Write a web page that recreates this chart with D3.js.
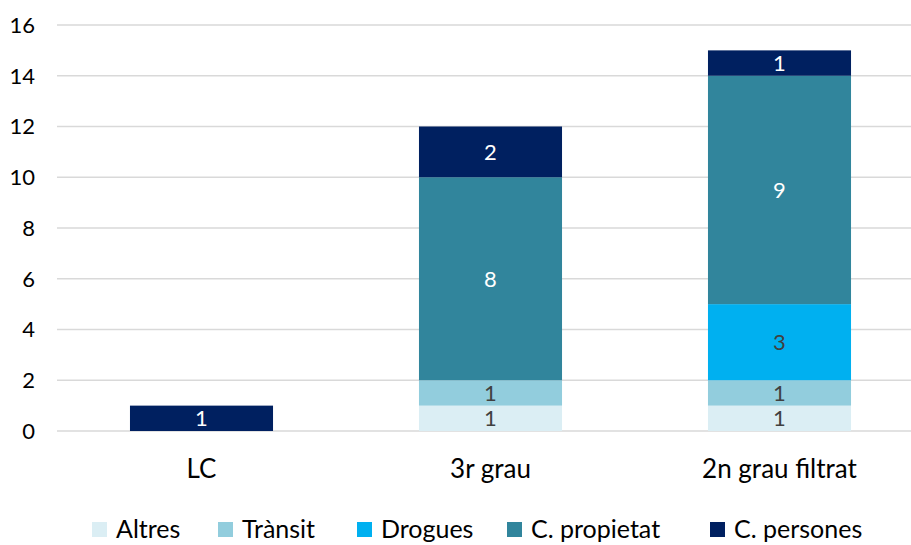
<!DOCTYPE html>
<html>
<head>
<meta charset="utf-8">
<script src="https://cdn.jsdelivr.net/npm/d3@7"></script>
<style>
  body { margin: 0; background: #fff; }
  svg text { font-family: Lato, "Open Sans", sans-serif; }
</style>
</head>
<body>
<div class="chart"></div>
<script>
var chartOptions = {
  width: 911,
  height: 545,
  left: 57,
  right: 924,
  top: 25,
  bottom: 431
};

// data
var categories = ["LC", "3r grau", "2n grau filtrat"];
var seriesNames = ["Altres", "Trànsit", "Drogues", "C. propietat", "C. persones"];
var altres = [0, 1, 1];
var transit = [0, 1, 1];
var drogues = [0, 0, 3];
var propietat = [0, 8, 9];
var persones = [1, 2, 1];
var yTicks = [0, 2, 4, 6, 8, 10, 12, 14, 16];

var colors = ["#dbeef4", "#92cddd", "#00b0f0", "#31859c", "#002060"];
var labelColors = ["#404040", "#404040", "#404040", "#ffffff", "#ffffff"];

var seriesValues = [altres, transit, drogues, propietat, persones];

// build rows for the stack
var rows = categories.map(function(cat, i){
  var row = { cat: cat };
  seriesNames.forEach(function(name, s){
    row[name] = seriesValues[s][i];
  });
  return row;
});

var stacked = d3.stack().keys(seriesNames)(rows);

var svg = d3.select('.chart').append('svg')
              .attr('width', chartOptions.width)
              .attr('height', chartOptions.height);

var x = d3.scaleBand()
          .domain(categories)
          .range([chartOptions.left, chartOptions.right]);

var y = d3.scaleLinear()
          .domain([0, 16])
          .range([chartOptions.bottom, chartOptions.top]);

var barWidth = x.bandwidth() * 0.495;

// gridlines
svg.append('g')
  .selectAll('line')
  .data(yTicks)
  .enter()
  .append('line')
    .attr('x1', chartOptions.left)
    .attr('x2', chartOptions.width)
    .attr('y1', function(d) { return y(d); })
    .attr('y2', function(d) { return y(d); })
    .attr('stroke', '#d9d9d9')
    .attr('stroke-width', 1.5);

// y tick labels
svg.append('g')
  .selectAll('text')
  .data(yTicks)
  .enter()
  .append('text')
    .attr('x', 35)
    .attr('y', function(d) { return y(d); })
    .attr('dy', '0.36em')
    .attr('text-anchor', 'end')
    .attr('font-size', 22)
    .attr('fill', '#000')
    .text(function(d) { return d; });

// bars
var layers = svg.append('g')
  .selectAll('g.layer')
  .data(stacked)
  .enter()
  .append('g')
    .attr('class', 'layer')
    .attr('fill', function(d, i) { return colors[i]; });

layers.selectAll('rect')
  .data(function(d) { return d; })
  .enter()
  .append('rect')
    .attr('x', function(d) { return x(d.data.cat) + (x.bandwidth() - barWidth) / 2; })
    .attr('y', function(d) { return y(d[1]); })
    .attr('width', barWidth)
    .attr('height', function(d) { return y(d[0]) - y(d[1]); });

// value labels
stacked.forEach(function(layer, i){
  svg.append('g')
    .selectAll('text')
    .data(layer.filter(function(d) { return d[1] - d[0] > 0; }))
    .enter()
    .append('text')
      .attr('x', function(d) { return x(d.data.cat) + x.bandwidth() / 2; })
      .attr('y', function(d) { return y((d[0] + d[1]) / 2); })
      .attr('dy', '0.36em')
      .attr('text-anchor', 'middle')
      .attr('font-size', 22)
      .attr('fill', labelColors[i])
      .text(function(d) { return d[1] - d[0]; });
});

// x labels
svg.append('g')
  .selectAll('text')
  .data(categories)
  .enter()
  .append('text')
    .attr('x', function(d) { return x(d) + x.bandwidth() / 2; })
    .attr('y', 478)
    .attr('text-anchor', 'middle')
    .attr('font-size', 26)
    .attr('fill', '#000')
    .text(function(d) { return d; });

// legend
var legendX = [92, 218, 357, 507, 710];
var legend = svg.append('g')
  .selectAll('g')
  .data(seriesNames)
  .enter()
  .append('g')
    .attr('transform', function(d, i) { return 'translate(' + legendX[i] + ',0)'; });

legend.append('rect')
  .attr('x', 0)
  .attr('y', 522)
  .attr('width', 15)
  .attr('height', 15)
  .attr('fill', function(d, i) { return colors[i]; });

legend.append('text')
  .attr('x', 24)
  .attr('y', 538)
  .attr('font-size', 25)
  .attr('fill', '#000')
  .text(function(d) { return d; });
</script>
</body>
</html>
